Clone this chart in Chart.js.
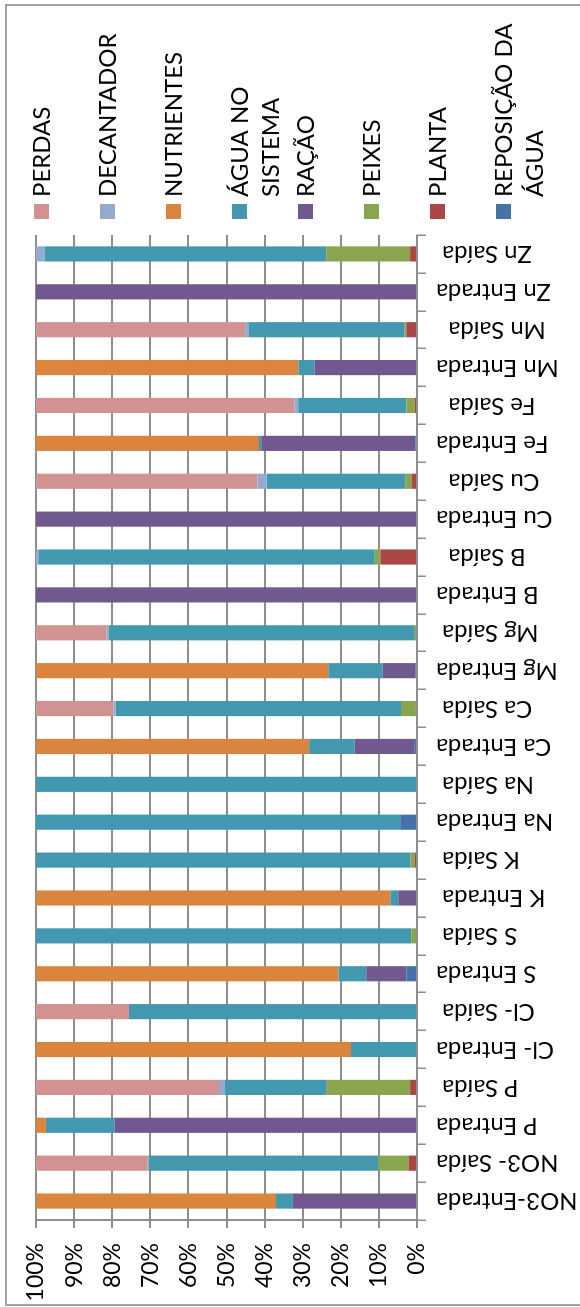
<!DOCTYPE html>
<html>
<head>
<meta charset="utf-8">
<script src="https://cdn.jsdelivr.net/npm/chart.js@4.4.1/dist/chart.umd.min.js"></script>
<style>
  html, body { margin: 0; padding: 0; background: #fff; overflow: hidden; }
  /* the chart is laid out landscape and turned a quarter turn counter-clockwise */
  #frame {
    position: absolute; left: 0; top: 0;
    width: 1307px; height: 580px;
    transform-origin: 0 0;
    transform: translate(0, 1307px) rotate(-90deg);
  }
  #box {
    position: absolute; left: 1px; top: 5px;
    width: 1302px; height: 620px;
    border: 2px solid #a3a3a3; box-sizing: border-box;
  }
  #c { position: absolute; left: 0; top: 0; }
</style>
</head>
<body>
<div id="frame">
  <div id="box"></div>
  <canvas id="c" width="1307" height="580"></canvas>
</div>
<script>
// Categories (left to right before the turn)
const categories = [
  'NO3-Entrada', 'NO3- Saída', 'P Entrada', 'P Saída ', 'Cl- Entrada', 'Cl- Saída ',
  'S Entrada', 'S Saída ', 'K Entrada ', 'K Saída ', 'Na Entrada', 'Na Saída ',
  'Ca Entrada', 'Ca Saída ', 'Mg Entrada', 'Mg Saída ', 'B Entrada', 'B Saída  ',
  'Cu Entrada', 'Cu Saída  ', 'Fe Entrada', 'Fe Saída  ', 'Mn Entrada', 'Mn Saída  ',
  'Zn Entrada', 'Zn Saída '
];

// Share of each component (%), stacked from the bottom upwards
const reposicaoAgua = [0, 0, 0, 0, 0, 0, 2.8, 0, 0, 0, 4.4, 0, 0.6, 0, 0.45, 0, 0, 0, 0, 0, 0.45, 0, 0, 0, 0, 0];
const planta        = [0, 2.2, 0, 1.8, 0, 0, 0, 0, 0, 0.6, 0, 0, 0, 0.3, 0, 0, 0, 9.6, 0, 1.3, 0, 0.6, 0, 2.8, 0, 1.8];
const peixes        = [0, 8.0, 0, 21.9, 0, 0, 0, 1.5, 0, 1.1, 0, 0, 0, 3.9, 0, 0.6, 0, 1.5, 0, 1.8, 0, 2.2, 0, 0.5, 0, 22.0];
const racao         = [32.6, 0, 79.4, 0, 0, 0, 10.5, 0, 4.9, 0, 0, 0, 15.8, 0, 8.6, 0, 100, 0, 100, 0, 40.45, 0, 26.9, 0, 100, 0];
const aguaSistema   = [4.4, 60.3, 18.0, 26.7, 17.3, 75.6, 7.3, 98.5, 2.1, 98.3, 95.6, 100, 11.9, 74.9, 14.2, 80.4, 0, 88.1, 0, 36.3, 0.6, 28.4, 4.2, 40.9, 0, 74.0];
const nutrientes    = [63.0, 0, 2.6, 0, 82.7, 0, 79.4, 0, 93.0, 0, 0, 0, 71.7, 0, 76.75, 0, 0, 0, 0, 0, 58.5, 0, 68.9, 0, 0, 0];
const decantador    = [0, 0.2, 0, 1.6, 0, 0, 0, 0, 0, 0, 0, 0, 0, 0.6, 0, 0.4, 0, 0.8, 0, 2.5, 0, 1.0, 0, 0.9, 0, 2.2];
const perdas        = [0, 29.3, 0, 48.0, 0, 24.4, 0, 0, 0, 0, 0, 0, 0, 20.3, 0, 18.6, 0, 0, 0, 58.1, 0, 67.8, 0, 54.9, 0, 0];

// Series names, in stacking order
const seriesNames = [
  'REPOSIÇÃO DA ÁGUA', 'PLANTA', 'PEIXES', 'RAÇÃO',
  'ÁGUA NO SISTEMA', 'NUTRIENTES', 'DECANTADOR', 'PERDAS'
];
const seriesValues = [reposicaoAgua, planta, peixes, racao, aguaSistema, nutrientes, decantador, perdas];
const seriesColors = ['#4572A7', '#AA4643', '#89A54E', '#71588F', '#4198AF', '#DB843D', '#94AAD0', '#D29292'];

// Percentage axis ticks
const percentTicks = [0, 10, 20, 30, 40, 50, 60, 70, 80, 90, 100];

const FONT = 'Lato, Carlito, "Liberation Sans", sans-serif';
const GRID = '#8e8e8e';

function wrapText(ctx, text, maxWidth) {
  const words = text.split(' ');
  const lines = [];
  let line = '';
  words.forEach(w => {
    const test = line ? line + ' ' + w : w;
    if (line && ctx.measureText(test).width > maxWidth) {
      lines.push(line);
      line = w;
    } else {
      line = test;
    }
  });
  if (line) lines.push(line);
  return lines;
}

// Legend column on the right-hand side, first entry at the top
const sideLegend = {
  id: 'sideLegend',
  afterDraw(chart) {
    const { ctx, chartArea } = chart;
    const items = chart.data.datasets.slice().reverse();
    const box = 15, step = 66, lineH = 31;
    const x0 = chartArea.right + 16;
    ctx.save();
    ctx.font = '24px ' + FONT;
    ctx.textBaseline = 'middle';
    ctx.textAlign = 'left';
    items.forEach((ds, i) => {
      const top = chartArea.top - 2 + i * step;
      ctx.fillStyle = ds.backgroundColor;
      ctx.fillRect(x0, top, box, box);
      ctx.fillStyle = '#000';
      wrapText(ctx, ds.label, 185).forEach((ln, j) => {
        ctx.fillText(ln, x0 + box + 7, top + box / 2 + 1 + j * lineH);
      });
    });
    ctx.restore();
  }
};

new Chart(document.getElementById('c'), {
  type: 'bar',
  data: {
    labels: categories,
    datasets: seriesNames.map((name, i) => ({
      label: name,
      data: seriesValues[i],
      backgroundColor: seriesColors[i],
      borderWidth: 0,
      categoryPercentage: 1.0,
      barPercentage: 0.4
    }))
  },
  options: {
    responsive: false,
    animation: false,
    events: [],
    layout: { padding: { left: 0, top: 36, right: 235, bottom: 0 } },
    plugins: {
      legend: { display: false },
      tooltip: { enabled: false }
    },
    scales: {
      x: {
        stacked: true,
        afterFit: s => { s.height = 163; },
        grid: {
          drawOnChartArea: false,
          drawTicks: true,
          tickLength: 9,
          color: GRID,
          lineWidth: 1.5
        },
        border: { display: true, color: GRID, width: 2 },
        ticks: {
          autoSkip: false,
          minRotation: 90,
          maxRotation: 90,
          padding: 10,
          color: '#000',
          font: { family: FONT, size: 24 }
        }
      },
      y: {
        stacked: true,
        min: percentTicks[0],
        max: percentTicks[percentTicks.length - 1],
        afterFit: s => { s.width = 87; },
        afterBuildTicks: s => { s.ticks = percentTicks.map(v => ({ value: v })); },
        grid: {
          color: GRID,
          lineWidth: 2,
          tickLength: 8
        },
        border: { display: true, color: GRID, width: 2 },
        ticks: {
          padding: 15,
          color: '#000',
          font: { family: FONT, size: 23 },
          callback: v => v + '%'
        }
      }
    }
  },
  plugins: [sideLegend]
});
</script>
</body>
</html>
